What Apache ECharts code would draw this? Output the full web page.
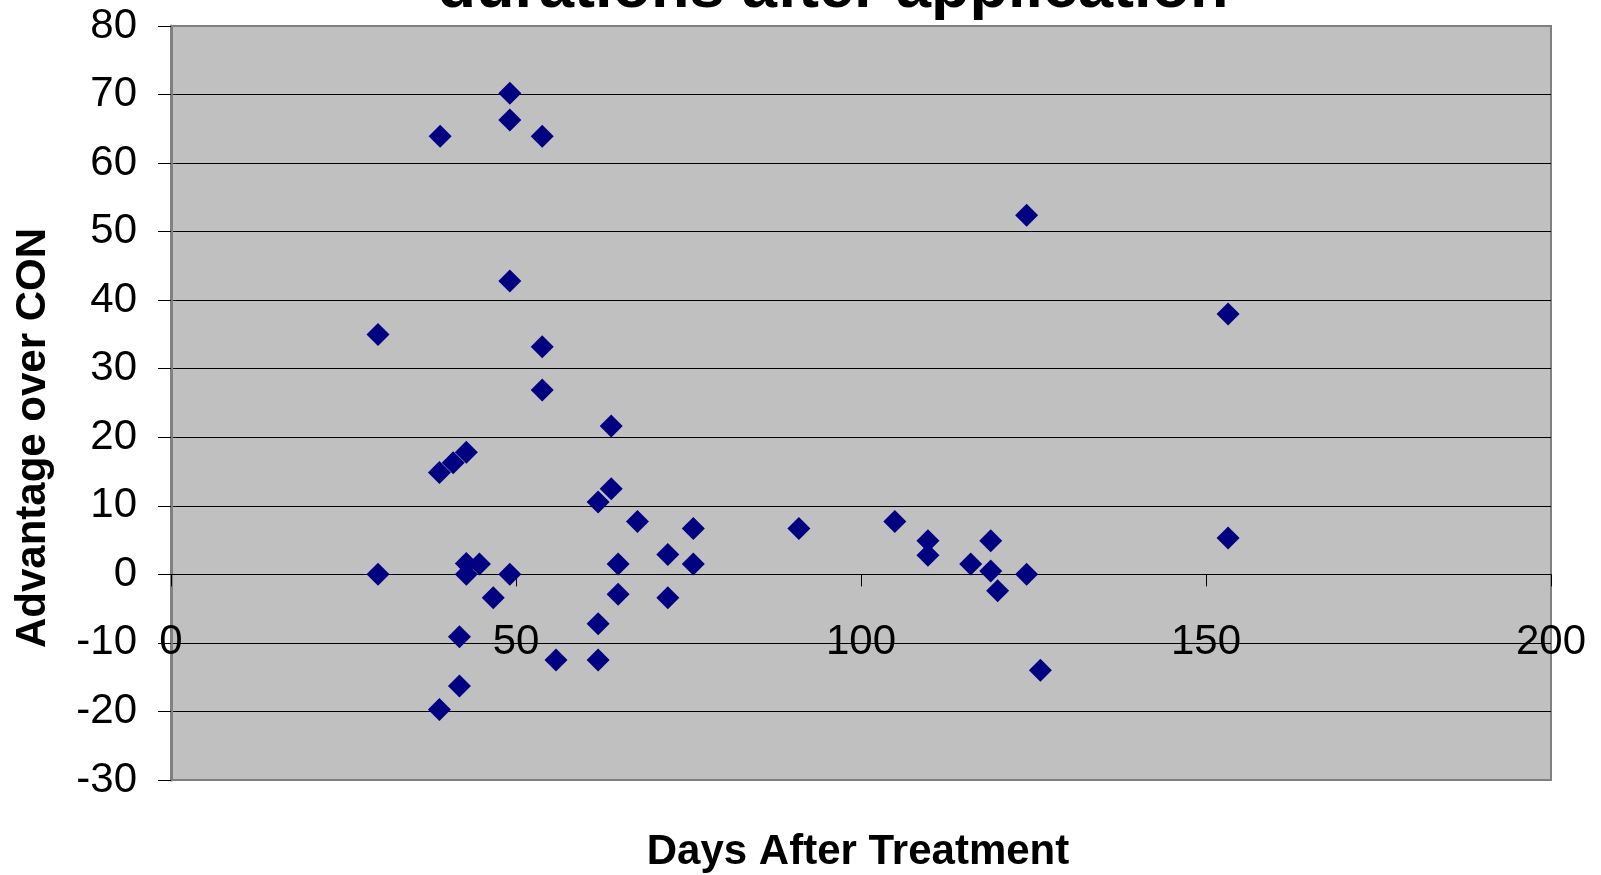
<!DOCTYPE html>
<html>
<head>
<meta charset="utf-8">
<script src="https://cdn.jsdelivr.net/npm/echarts@6/dist/echarts.min.js"></script>
<style>
html,body{margin:0;padding:0;background:#fff;}
#chart{width:1601px;height:875px;}
</style>
</head>
<body>
<div id="chart"></div>
<script>
// Data
const days = [30, 30, 39, 38.9, 40.9, 42.8, 38.9, 41.8, 41.8, 42.8, 42.8, 44.7, 46.7,
  49.1, 49.1, 49.1, 49.1, 53.8, 53.8, 53.8, 55.8, 61.9, 61.9, 61.9, 63.8, 63.8,
  64.8, 64.8, 67.6, 72, 72, 75.7, 75.7, 91, 104.9, 109.7, 109.7, 115.9, 118.8,
  118.8, 119.8, 124, 124, 126, 153.2, 153.2];
const advantage = [35.0, 0, 63.9, 14.85, 16.3, 17.8, -19.7, -9.1, -16.3, 1.6, 0, 1.5, -3.4,
  70.2, 66.3, 42.8, 0, 63.9, 33.2, 26.9, -12.5, 10.55, -7.2, -12.5, 21.65, 12.5,
  1.5, -2.9, 7.7, 2.9, -3.4, 6.7, 1.5, 6.7, 7.7, 4.9, 2.8, 1.5, 4.9,
  0.5, -2.4, 52.4, 0, -14.0, 38.0, 5.3];
const xTicks = {min: 0, max: 200, interval: 50};
const yTicks = {min: -30, max: 80, interval: 10};
const titleText = 'durations after application';
const xTitle = 'Days After Treatment';
const yTitle = 'Advantage over CON';

const points = days.map((d, i) => [d, advantage[i]]);
const FONT = 'Liberation Sans, Arial, sans-serif';

const H = 875, gridTop = 26, gridBottom = 95;
const gridH = H - gridTop - gridBottom;
// move the x axis up so it sits on the y = 0 line
const xOffset = -gridH * (0 - yTicks.min) / (yTicks.max - yTicks.min);

// split line colours: boundaries grey (index 0 and 11), inner lines black
const splitColors = ['#808080', '#000', '#000', '#000', '#000', '#000', '#000', '#000', '#000', '#000', '#000'];

const chart = echarts.init(document.getElementById('chart'), null, {renderer: 'canvas'});
chart.setOption({
  animation: false,
  backgroundColor: '#ffffff',
  grid: {
    left: 171, right: 50, top: gridTop, bottom: gridBottom,
    show: true, backgroundColor: '#c0c0c0', borderColor: '#808080', borderWidth: 2
  },
  xAxis: {
    type: 'value', min: xTicks.min, max: xTicks.max, interval: xTicks.interval,
    offset: xOffset,
    axisLine: {show: true, onZero: false, lineStyle: {color: '#000', width: 1}},
    axisTick: {show: true, length: 12, lineStyle: {color: '#000', width: 1}},
    axisLabel: {color: '#000', fontFamily: FONT, fontSize: 42, margin: 47, showMinLabel: true, showMaxLabel: true},
    splitLine: {show: false}
  },
  yAxis: {
    type: 'value', min: yTicks.min, max: yTicks.max, interval: yTicks.interval,
    axisLine: {show: true, onZero: false, lineStyle: {color: '#808080', width: 3}},
    axisTick: {show: true, length: 13, lineStyle: {color: '#000', width: 1}},
    axisLabel: {color: '#000', fontFamily: FONT, fontSize: 42, margin: 34},
    splitLine: {show: true, lineStyle: {color: splitColors, width: 1}}
  },
  series: [{
    type: 'scatter',
    data: points,
    symbol: 'diamond',
    symbolSize: 23,
    itemStyle: {color: '#000080', opacity: 1},
    z: 5
  }],
  graphic: [
    {type: 'text', x: 833, y: -10, style: {text: titleText, fill: '#000', font: 'bold 63px ' + FONT, align: 'center', verticalAlign: 'middle'}},
    {type: 'text', x: 858, y: 852, style: {text: xTitle, fill: '#000', font: 'bold 42px ' + FONT, align: 'center', verticalAlign: 'middle'}},
    {type: 'text', x: 33, y: 438, rotation: Math.PI / 2, style: {text: yTitle, fill: '#000', font: 'bold 42px ' + FONT, align: 'center', verticalAlign: 'middle'}}
  ]
});
</script>
</body>
</html>
